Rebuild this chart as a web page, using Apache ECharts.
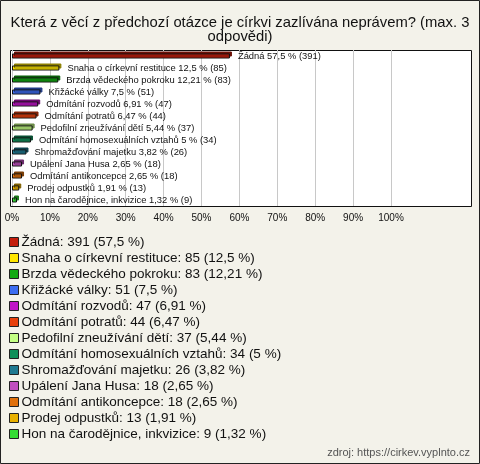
<!DOCTYPE html>
<html>
<head>
<meta charset="utf-8">
<script src="https://cdn.jsdelivr.net/npm/echarts@6/dist/echarts.min.js"></script>
<style>
  html, body { margin: 0; padding: 0; background: #f3f2ea; }
  #main { width: 480px; height: 464px; }
</style>
</head>
<body>
<div id="main"></div>
<script>
// odpovědi, počty hlasů a procenta
var categories = ['Žádná', 'Snaha o církevní restituce', 'Brzda vědeckého pokroku', 'Křižácké války',
  'Odmítání rozvodů', 'Odmítání potratů', 'Pedofilní zneužívání dětí', 'Odmítání homosexuálních vztahů',
  'Shromažďování majetku', 'Upálení Jana Husa', 'Odmítání antikoncepce', 'Prodej odpustků',
  'Hon na čarodějnice, inkvizice'];
var counts = [391, 85, 83, 51, 47, 44, 37, 34, 26, 18, 18, 13, 9];
var percents = [57.5, 12.5, 12.21, 7.5, 6.91, 6.47, 5.44, 5, 3.82, 2.65, 2.65, 1.91, 1.32];
var colors = ['#c41e0c', '#ffe600', '#12aa12', '#3c6cf0', '#c014c8', '#e8400c', '#c4ff84',
  '#10905a', '#1e7890', '#c050c0', '#e0700c', '#e8b000', '#34dc34'];
var tickLabels = ['0%', '10%', '20%', '30%', '40%', '50%', '60%', '70%', '80%', '90%', '100%'];

function fmt(v) { return String(v).replace('.', ','); }

function darker(hex) {
  var n = parseInt(hex.slice(1), 16);
  var r = Math.round(((n >> 16) & 255) * 0.55), g = Math.round(((n >> 8) & 255) * 0.55), b = Math.round((n & 255) * 0.55);
  return 'rgb(' + r + ',' + g + ',' + b + ')';
}

var series = categories.map(function (name, i) {
  var data = categories.map(function (c, j) { return j === i ? percents[i] : '-'; });
  return {
    name: name,
    type: 'bar',
    barWidth: 5,
    barGap: '-100%',
    data: data,
    itemStyle: {
      color: colors[i],
      borderColor: '#111',
      borderWidth: 1,
      shadowColor: darker(colors[i]),
      shadowOffsetX: 2,
      shadowOffsetY: -2,
      shadowBlur: 0
    },
    label: {
      show: true,
      position: 'right',
      distance: 8,
      fontFamily: 'Liberation Sans',
      fontSize: 9.4,
      color: '#111',
      formatter: function () { return name + ' ' + fmt(percents[i]) + ' % (' + counts[i] + ')'; }
    }
  };
});

var myChart = echarts.init(document.getElementById('main'));
myChart.setOption({
  backgroundColor: '#f3f2ea',
  animation: false,
  color: colors,
  title: [{
    text: 'Která z věcí z předchozí otázce je církvi zazlívána neprávem? (max. 3\nodpovědi)',
    left: 'center',
    top: 11,
    textStyle: { fontFamily: 'Liberation Sans', fontSize: 14.8, fontWeight: 'normal', color: '#111', lineHeight: 14, align: 'center' }
  }, {
    text: 'zdroj: https://cirkev.vyplnto.cz',
    right: 5,
    bottom: 1,
    textStyle: { fontFamily: 'Liberation Sans', fontSize: 11, fontWeight: 'normal', color: '#555' }
  }],
  graphic: [{
    type: 'rect', z: -10, silent: true,
    shape: { x: 0.5, y: 0.5, width: 479, height: 463 },
    style: { fill: 'none', stroke: '#222', lineWidth: 1 }
  }, {
    type: 'rect', z: -10, silent: true,
    shape: { x: 10.5, y: 50.5, width: 461, height: 156 },
    style: { fill: '#fff', stroke: '#111', lineWidth: 1 }
  }],
  legend: {
    orient: 'vertical',
    left: 4,
    top: 230,
    itemWidth: 9,
    itemHeight: 9,
    itemGap: 2,
    icon: 'rect',
    selectedMode: false,
    data: categories.map(function (c, i) {
      return { name: c, itemStyle: { borderColor: '#222', borderWidth: 1 } };
    }),
    textStyle: { fontFamily: 'Liberation Sans', fontSize: 13.5, lineHeight: 13, color: '#111', padding: [0, 0, 0, -2] },
    formatter: function (name) {
      var i = categories.indexOf(name);
      return name + ': ' + counts[i] + ' (' + fmt(percents[i]) + ' %)';
    }
  },
  grid: { left: 12, right: 89, top: 50, bottom: 258, containLabel: false },
  xAxis: {
    type: 'value',
    min: 0,
    max: 100,
    interval: 10,
    axisLine: { show: false },
    axisTick: { show: false },
    splitLine: { show: true, lineStyle: { color: '#c8c8c8', width: 1 } },
    axisLabel: {
      margin: 7,
      fontFamily: 'Liberation Sans',
      fontSize: 10,
      color: '#111',
      formatter: function (v) { return tickLabels[Math.round(v / 10)]; }
    }
  },
  yAxis: {
    type: 'category',
    inverse: true,
    data: categories,
    axisLine: { show: false },
    axisTick: { show: false },
    axisLabel: { show: false }
  },
  series: series
});
window.onresize = function () { myChart.resize(); };
</script>
</body>
</html>
